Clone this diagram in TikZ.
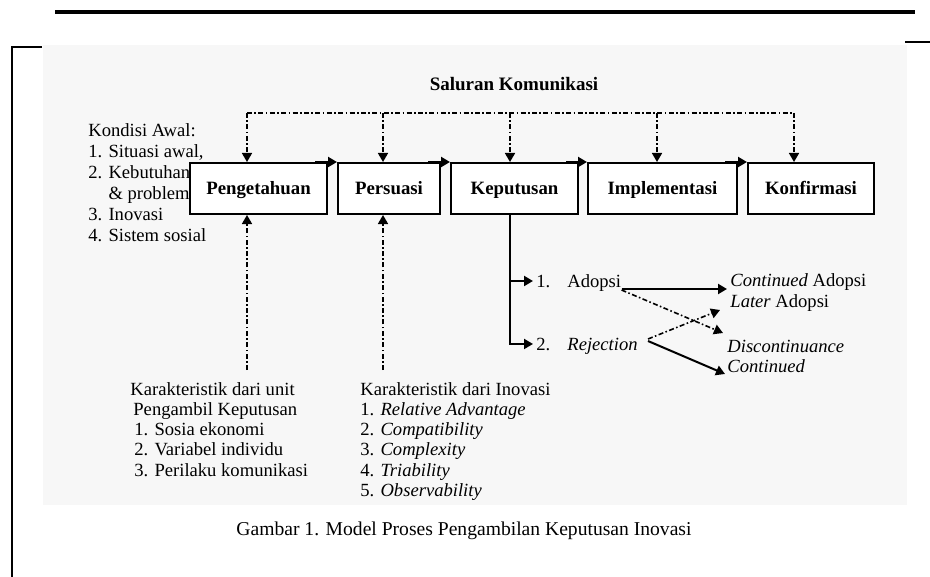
\documentclass[tikz,border=0pt]{standalone}
\usepackage{fontspec}
\setmainfont{Liberation Serif}
\usetikzlibrary{shapes,arrows.meta,positioning,calc}

\newcommand{\teksukuran}{\fontsize{9.3}{10.5}\selectfont}
\newcommand{\daftarukuran}{\fontsize{9.3}{10.1}\selectfont}

\begin{document}
\begin{tikzpicture}[
    x=0.5pt, y=-0.5pt,
    >={Triangle[length=4.5pt, width=5pt]},
    tahap/.style={draw, line width=1pt, fill=white, inner sep=0pt, minimum height=25.5pt,
        text height=1.5ex, text depth=.3ex, font=\fontsize{9.4}{11}\selectfont\bfseries},
    alur/.style={->, line width=1pt},
    saluran/.style={line width=0.8pt, dash pattern=on 2.5pt off 1.2pt on 0.8pt off 1.2pt},
    teks/.style={inner sep=0pt, anchor=base west, font=\teksukuran},
    daftar/.style={inner sep=0pt, anchor=north west, align=left}
]
\useasboundingbox (0,0) rectangle (930,577);

% Page
\fill[black!3] (43,45) rectangle (907,505);
\draw[line width=2pt] (55,12) -- (915,12);
\draw[line width=0.8pt] (42,47) -- (12,47) -- (12,577);
\draw[line width=0.8pt] (905,42) -- (930,42);

% Title
\node[font=\fontsize{9.5}{11}\selectfont\bfseries] (judul) at (514,84) {Saluran Komunikasi};

% Initial conditions
\node[daftar, font=\teksukuran] (kondisi) at (88,123) {Kondisi Awal:\\1. Situasi awal,\\2. Kebutuhan\\\phantom{2. }\& problem\\3. Inovasi\\4. Sistem sosial};

% Stages
\node[tahap, minimum width=68.5pt] (tahu) at (258.5,188.5) {Pengetahuan};
\node[tahap, minimum width=51pt] (persuasi) at (389,188.5) {Persuasi};
\node[tahap, minimum width=63.5pt] (putus) at (514.5,188.5) {Keputusan};
\node[tahap, minimum width=74.5pt] (impl) at (662.5,188.5) {Implementasi};
\node[tahap, minimum width=63pt] (konfirm) at (811,188.5) {Konfirmasi};

\foreach \a/\b in {tahu/persuasi, persuasi/putus, putus/impl, impl/konfirm}
    \draw[alur] ($(\a.north east)+(-13,0)$) -- (\b.north west);

% Communication channels
\coordinate (s1) at (247,113);
\coordinate (s2) at (383,113);
\coordinate (s3) at (510,113);
\coordinate (s4) at (657,113);
\coordinate (s5) at (794,113);
\draw[saluran] (s1) -- (s5);
\foreach \c/\b in {s1/tahu, s2/persuasi, s3/putus, s4/impl, s5/konfirm}
    \draw[saluran, ->] (\c) -- (\c |- \b.north);

% Characteristics
\node[daftar, font=\daftarukuran] (unit) at (130,382) {Karakteristik dari unit\\
\hspace{1.5pt}Pengambil Keputusan\\
\hspace{2pt}1. Sosia ekonomi\\
\hspace{2pt}2. Variabel individu\\
\hspace{2pt}3. Perilaku komunikasi};
\node[daftar, font=\daftarukuran] (inovasi) at (360,382) {Karakteristik dari Inovasi\\
1. \textit{Relative Advantage}\\
2. \textit{Compatibility}\\
3. \textit{Complexity}\\
4. \textit{Triability}\\
5. \textit{Observability}};

\coordinate (u1) at (247,370);
\coordinate (u2) at (383,370);
\draw[saluran, ->] (u1) -- (u1 |- tahu.south);
\draw[saluran, ->] (u2) -- (u2 |- persuasi.south);

% Decision outcomes
\node[teks] (n1) at (536,287) {1.};
\node[teks] (adopsi) at (567,287) {Adopsi};
\node[teks] (n2) at (536,350) {2.};
\node[teks] (tolak) at (567,350) {\textit{Rejection}};
\node[teks] (lanjut) at (730,286) {\textit{Continued} Adopsi};
\node[teks] (lambat) at (730,307) {\textit{Later} Adopsi};
\node[teks] (henti) at (727,352) {\textit{Discontinuance}};
\node[teks] (tetap) at (727,372) {\textit{Continued}};

\coordinate (k0) at ($(putus.south)+(-4.5,0)$);
\draw[alur] (k0) |- ($(n2.west)+(-3,0)$);
\draw[alur] (k0 |- n1.west) -- ($(n1.west)+(-3,0)$);

\draw[alur] ($(adopsi.base east)+(0,2)$) -- ($(lanjut.base west)+(-3,3)$);
\draw[saluran, ->] ($(adopsi.base east)+(0,3)$) -- ($(henti.base west)+(-4,-19)$);
\draw[saluran, ->] ($(tolak.base east)+(10,-11)$) -- ($(lambat.base west)+(-10,3)$);
\draw[alur] ($(tolak.base east)+(10,-9)$) -- ($(tetap.base west)+(-2,2)$);

% Caption
\node[font=\fontsize{9.8}{11}\selectfont] (gambar) at (464,531) {Gambar 1. Model Proses Pengambilan Keputusan Inovasi};

\end{tikzpicture}
\end{document}
